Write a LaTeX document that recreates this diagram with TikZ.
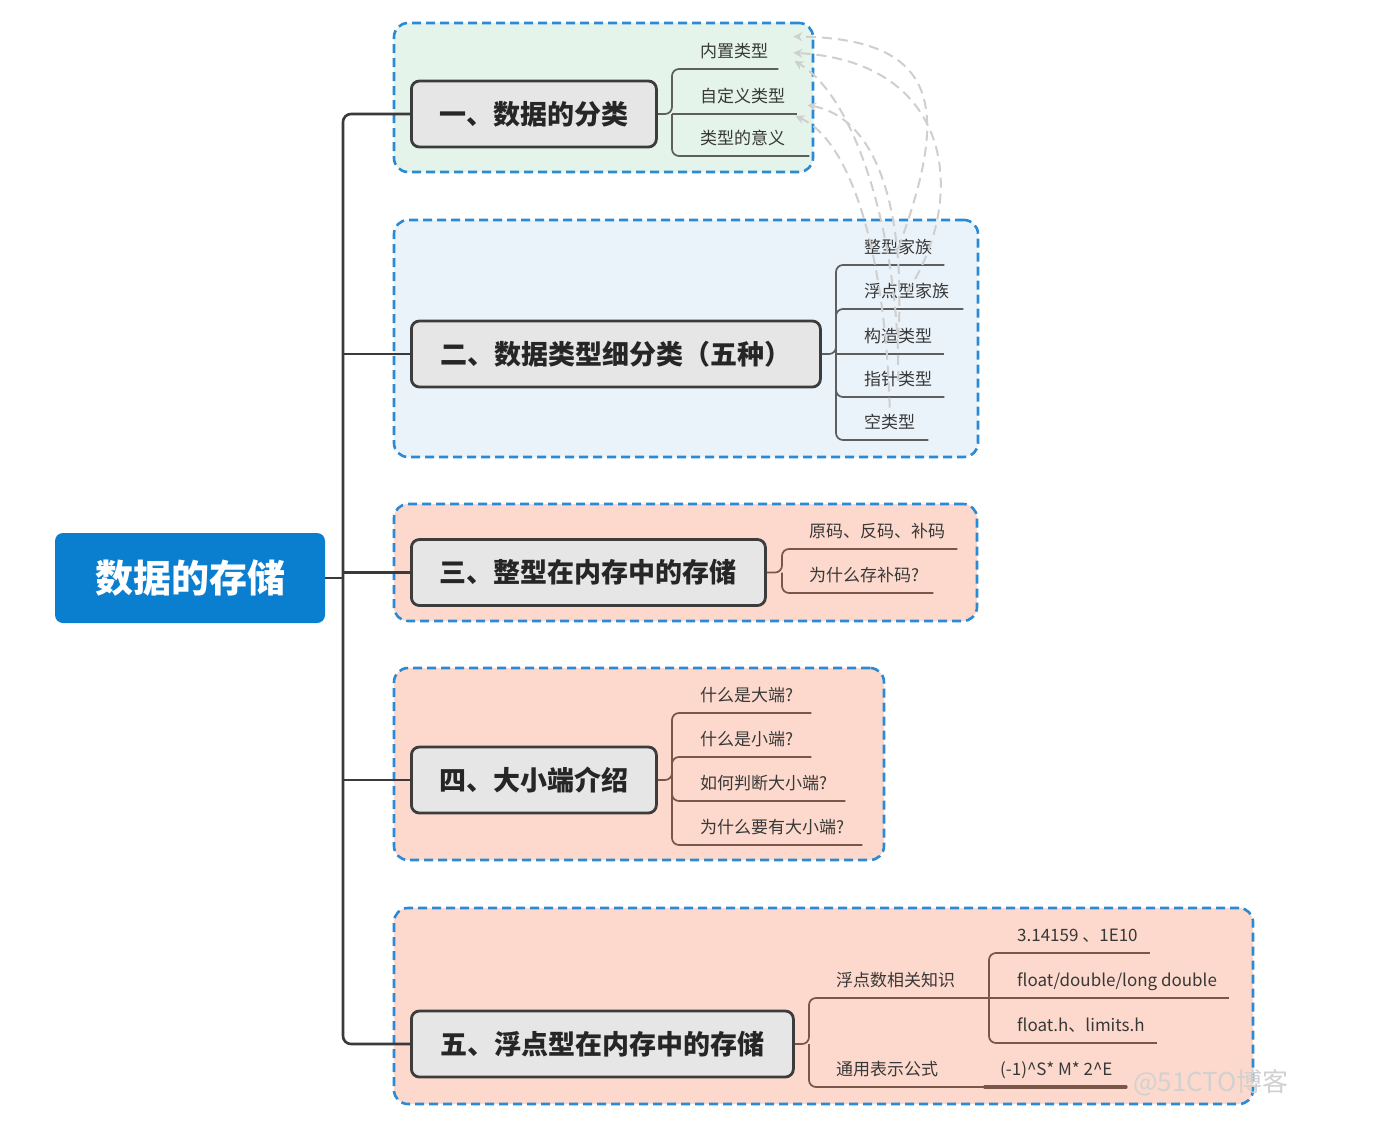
\documentclass[tikz,border=0pt]{standalone}
\usepackage{fontspec}
\newfontfamily\cjk{Noto Sans CJK SC}
\usetikzlibrary{arrows.meta}
\definecolor{rootblue}{HTML}{0A7FCF}
\definecolor{trunkc}{HTML}{3A3A3A}
\definecolor{topicb}{HTML}{3C3C3C}
\definecolor{topicf}{HTML}{E6E6E6}
\definecolor{secb}{HTML}{2A8AD6}
\definecolor{fgreen}{HTML}{E4F4EA}
\definecolor{fblue}{HTML}{EAF3FA}
\definecolor{fsalmon}{HTML}{FCD9CC}
\definecolor{lgray}{HTML}{5E5E5E}
\definecolor{lbrown}{HTML}{7A5549}
\definecolor{relc}{HTML}{CFCFCF}
\begin{document}
\begin{tikzpicture}[x=1pt,y=-1pt,
  root/.style={rectangle, rounded corners=8, fill=rootblue, text=white,
    font=\cjk\bfseries\fontsize{38}{38}\selectfont, minimum width=270, minimum height=90, inner sep=0},
  topic/.style={rectangle, rounded corners=8, draw=topicb, line width=2.8, fill=topicf,
    font=\cjk\bfseries\fontsize{27}{27}\selectfont, text=black!85, minimum height=66, inner sep=0, anchor=west},
  secbox/.style={rectangle, rounded corners=14, draw=secb, dash pattern=on 9pt off 5pt, line width=2.6, inner sep=0},
  sub/.style={font=\cjk\fontsize{17}{17}\selectfont, text=black!78, inner xsep=0, inner ysep=8,
    text height=13, text depth=3, anchor=south west},
  trunk/.style={draw=trunkc, line width=2.6, rounded corners=8},
  lg/.style={draw=lgray, line width=1.7, rounded corners=7},
  lb/.style={draw=lbrown, line width=1.7, rounded corners=7},
  rel/.style={draw=relc, line width=2, dash pattern=on 10pt off 6pt, -{Stealth[length=9,width=9]}}
]
\useasboundingbox (0,0) rectangle (1393,1122);
\fill[white] (0,0) rectangle (1393,1122);

% section frames
\node[secbox, fill=fgreen, minimum width=419, minimum height=149] (s1) at (603.5,97.5) {};
\node[secbox, fill=fblue, minimum width=584, minimum height=237] (s2) at (686,338.5) {};
\node[secbox, fill=fsalmon, minimum width=583, minimum height=117] (s3) at (685.5,562.5) {};
\node[secbox, fill=fsalmon, minimum width=490, minimum height=192] (s4) at (639,764) {};
\node[secbox, fill=fsalmon, minimum width=859, minimum height=196] (s5) at (823.5,1006) {};

% root and topics
\node[root] (root) at (190,578) {数据的存储};
\node[topic, minimum width=245] (t1) at (410,114) {一、数据的分类};
\node[topic, minimum width=409] (t2) at (410,354) {二、数据类型细分类（五种）};
\node[topic, minimum width=354] (t3) at (410,572.5) {三、整型在内存中的存储};
\node[topic, minimum width=245] (t4) at (410,780) {四、大小端介绍};
\node[topic, minimum width=382] (t5) at (410,1044) {五、浮点型在内存中的存储};

% trunk
\coordinate (tr) at (343,578);
\draw[trunk] (root.east) -- (tr);
\draw[trunk] (t1.west) -| (tr) |- (t5.west);
\draw[trunk] (tr |- t2.west) -- (t2.west);
\draw[trunk] (tr |- t3.west) -- (t3.west);
\draw[trunk] (tr |- t4.west) -- (t4.west);

% section 1 children
\node[sub] (c11) at (700,69) {内置类型};
\node[sub] (c12) at (700,114) {自定义类型};
\node[sub] (c13) at (700,156) {类型的意义};
\coordinate (b1) at (672,114);
\draw[lg] (t1.east) -- (b1) |- ([xshift=10]c11.south east);
\draw[lg] (b1) -- ([xshift=12]c12.south east);
\draw[lg] (b1) |- ([xshift=24]c13.south east);

% section 2 children
\node[sub] (c21) at (864,265) {整型家族};
\node[sub] (c22) at (864,309) {浮点型家族};
\node[sub] (c23) at (864,354) {构造类型};
\node[sub] (c24) at (864,397) {指针类型};
\node[sub] (c25) at (864,440) {空类型};
\coordinate (b2) at (836,354);
\draw[lg] (t2.east) -- (b2) |- ([xshift=12]c21.south east);
\draw[lg] (b2) |- ([xshift=14]c22.south east);
\draw[lg] (b2) -- ([xshift=12]c23.south east);
\draw[lg] (b2) |- ([xshift=12]c24.south east);
\draw[lg] (b2) |- ([xshift=13]c25.south east);

% section 3 children
\node[sub] (c31) at (809,549) {原码、反码、补码};
\node[sub] (c32) at (809,593) {为什么存补码?};
\coordinate (b3) at (782,572.5);
\draw[lb] (t3.east) -- (b3) |- ([xshift=12]c31.south east);
\draw[lb] (b3) |- ([xshift=14]c32.south east);

% section 4 children
\node[sub] (c41) at (700,713) {什么是大端?};
\node[sub] (c42) at (700,757) {什么是小端?};
\node[sub] (c43) at (700,801) {如何判断大小端?};
\node[sub] (c44) at (700,845) {为什么要有大小端?};
\coordinate (b4) at (672,780);
\draw[lb] (t4.east) -- (b4) |- ([xshift=18]c41.south east);
\draw[lb] (b4) |- ([xshift=18]c42.south east);
\draw[lb] (b4) |- ([xshift=18]c43.south east);
\draw[lb] (b4) |- ([xshift=18]c44.south east);

% section 5 children
\node[sub] (c51) at (836,998) {浮点数相关知识};
\node[sub] (c52) at (836,1087) {通用表示公式};
\node[sub] (c53) at (1017,953) {3.14159 、1E10};
\node[sub] (c54) at (1017,998) {float/double/long double};
\node[sub] (c55) at (1017,1043) {float.h、limits.h};
\node[sub] (c56) at (1000,1087) {(-1)\textasciicircum S* M* 2\textasciicircum E};
\coordinate (b5) at (809,1044);
\coordinate (k5) at (989,998);
\draw[lb] (t5.east) -- (b5) |- (k5);
\draw[lb] (k5) |- ([xshift=12]c53.south east);
\draw[lb] (k5) -- ([xshift=12]c54.south east);
\draw[lb] (k5) |- ([xshift=12]c55.south east);
\draw[lb] (b5) |- ([xshift=-15]c56.south west);
\draw[lbrown, line width=4, line cap=round] ([xshift=-15]c56.south west) -- ([xshift=13]c56.south east);

% relationship lines
\draw[rel] (c21.center) .. controls (945,120) and (950,38) .. ([xshift=25]c11.north east);
\draw[rel] (c22.center) .. controls (968,200) and (955,62) .. ([xshift=25]c11.east);
\draw[rel] (c24.center) .. controls (900,250) and (860,100) .. ([xshift=26,yshift=8]c11.south east);
\draw[rel] (c23.center) .. controls (905,230) and (885,120) .. ([xshift=22,yshift=9]c12.south east);
\draw[rel] (c25.north) .. controls (885,250) and (850,140) .. ([xshift=10,yshift=40]c13.south east);

% watermark
\node[font=\cjk\fontsize{26}{26}\selectfont, text=black!18] (wm) at (1211,1083) {@51CTO博客};
\end{tikzpicture}
\end{document}
